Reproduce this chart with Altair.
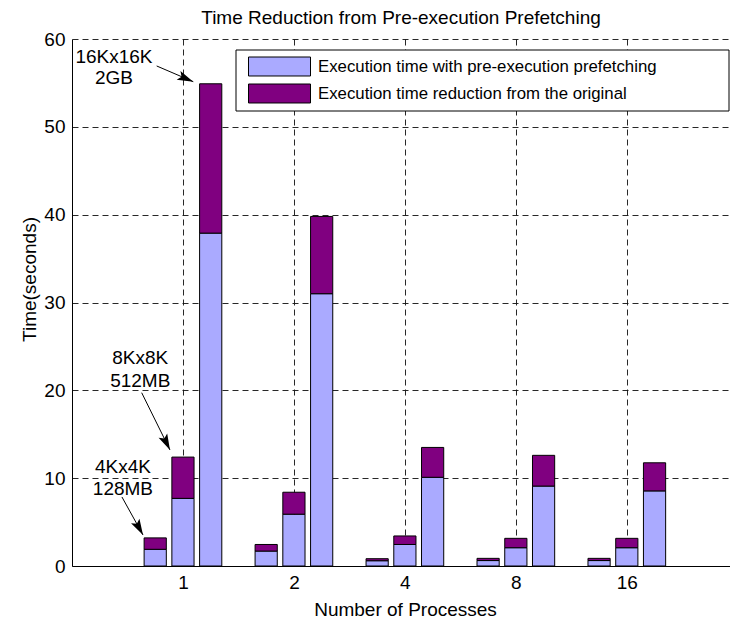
import json
import altair as alt
import pandas as pd

# ---------------- data ----------------
groups = ["1", "2", "4", "8", "16"]                      # number of processes
sizes = ["4Kx4K", "8Kx8K", "16Kx16K"]                   # matrix sizes (bars per group)
series = ["Execution time with pre-execution prefetching",
          "Execution time reduction from the original"]

# execution time with pre-execution prefetching (seconds), per size across groups
prefetch_4k = [1.9, 1.7, 0.6, 0.62, 0.62]
prefetch_8k = [7.7, 5.9, 2.45, 2.08, 2.08]
prefetch_16k = [37.9, 31.0, 10.1, 9.1, 8.55]
# original execution time (top of the stacked bar)
original_4k = [3.2, 2.45, 0.83, 0.87, 0.87]
original_8k = [12.4, 8.4, 3.42, 3.15, 3.15]
original_16k = [54.9, 39.8, 13.5, 12.6, 11.75]

# annotation labels and arrows (data coordinates)
ann_label = ["16Kx16K", "2GB", "8Kx8K", "512MB", "4Kx4K", "128MB"]
ann_x = [0.378, 0.378, 0.615, 0.615, 0.459, 0.459]
ann_y = [58.0, 55.6, 23.65, 21.1, 11.3, 8.77]
arrow_x_start = [0.763, 0.628, 0.450]
arrow_y_start = [56.93, 19.73, 7.86]
arrow_x_end = [1.093, 0.883, 0.640]
arrow_y_end = [55.14, 13.21, 3.53]
arrow_angle = [23.2, 63.7, 61.0]

# ---------------- tables ----------------
prefetch = [prefetch_4k, prefetch_8k, prefetch_16k]
original = [original_4k, original_8k, original_16k]
bar_offset = [-0.25, 0.0, 0.25]
half_w = 0.1

rows = []
for gi, g in enumerate(groups):
    for si, s in enumerate(sizes):
        pos = gi + 1 + bar_offset[si]
        p = prefetch[si][gi]
        o = original[si][gi]
        rows.append(dict(group=g, size=s, series=series[0], x0=pos - half_w, x1=pos + half_w, y0=0.0, y1=p))
        rows.append(dict(group=g, size=s, series=series[1], x0=pos - half_w, x1=pos + half_w, y0=p, y1=o))
bars_df = pd.DataFrame(rows)

ann_df = pd.DataFrame(dict(label=ann_label, x=ann_x, y=ann_y))
arrow_df = pd.DataFrame(dict(xs=arrow_x_start, ys=arrow_y_start, xe=arrow_x_end, ye=arrow_y_end, ang=arrow_angle))

FONT = "Liberation Sans"
x_scale = alt.Scale(domain=[0, 5.93], nice=False, zero=False)
y_scale = alt.Scale(domain=[0, 60], nice=False)
X_TITLE = "Number of Processes"
Y_TITLE = "Time(seconds)"

label_expr = json.dumps(groups) + "[datum.value - 1]"
x_axis = alt.Axis(values=[1, 2, 3, 4, 5], labelExpr=label_expr,
                  labelPadding=22, labelBaseline="alphabetic", labelFlush=False,
                  titleX=333, titleY=49, titleBaseline="alphabetic", titleAlign="center")
y_axis = alt.Axis(values=list(range(0, 61, 10)), labelPadding=7, labelFlush=False,
                  titleX=-37, titleY=240, titleBaseline="alphabetic", titleAlign="center")

frame = alt.Chart(pd.DataFrame({"k": [0]})).mark_rect(
    fill="white", stroke="black", strokeWidth=1
).encode(x=alt.value(164), x2=alt.value(657), y=alt.value(11), y2=alt.value(72))

bars = alt.Chart(bars_df).mark_rect(stroke="black", strokeWidth=1).encode(
    x=alt.X("x0:Q", scale=x_scale, title=X_TITLE, axis=x_axis),
    x2="x1:Q",
    y=alt.Y("y0:Q", scale=y_scale, title=Y_TITLE, axis=y_axis),
    y2="y1:Q",
    color=alt.Color("series:N",
                    scale=alt.Scale(domain=series, range=["#AAAAFF", "#800080"]),
                    legend=alt.Legend(title=None, orient="none", legendX=176, legendY=17,
                                      direction="vertical",
                                      symbolType="M-1,-0.306L1,-0.306L1,0.306L-1,0.306Z",
                                      symbolSize=3844, symbolStrokeColor="black",
                                      symbolStrokeWidth=1, symbolOpacity=1,
                                      labelFontSize=16.8, labelFont=FONT, labelColor="black",
                                      labelOffset=7, clipHeight=21, rowPadding=6,
                                      padding=0, labelLimit=600)),
)

texts = alt.Chart(ann_df).mark_text(
    font=FONT, fontSize=19, color="black", align="center", baseline="middle"
).encode(
    x=alt.X("x:Q", scale=x_scale, title=X_TITLE, axis=x_axis),
    y=alt.Y("y:Q", scale=y_scale, title=Y_TITLE, axis=y_axis),
    text="label:N",
)

lines = alt.Chart(arrow_df).mark_rule(color="black", strokeWidth=1).encode(
    x=alt.X("xs:Q", scale=x_scale, title=X_TITLE, axis=x_axis),
    y=alt.Y("ys:Q", scale=y_scale, title=Y_TITLE, axis=y_axis),
    x2="xe:Q",
    y2="ye:Q",
)

heads = alt.Chart(arrow_df).mark_point(
    shape="M0,0L-2,-0.6L-1.6,0L-2,0.6Z", size=256, filled=True, color="black",
    opacity=1, strokeWidth=0
).encode(
    x=alt.X("xe:Q", scale=x_scale, title=X_TITLE, axis=x_axis),
    y=alt.Y("ye:Q", scale=y_scale, title=Y_TITLE, axis=y_axis),
    angle=alt.Angle("ang:Q", scale=None),
)

chart = alt.layer(frame, bars, texts, lines, heads).properties(
    width=658, height=527,
    autosize=alt.AutoSizeParams(type="none"),
    padding={"left": 64, "top": 31, "right": 0, "bottom": 56},
    title=alt.TitleParams(text="Time Reduction from Pre-execution Prefetching",
                          font=FONT, fontSize=19, fontWeight="normal", color="black",
                          anchor="middle", frame="group", baseline="top", offset=2),
).configure_view(stroke=None).configure_axis(
    grid=True, gridDash=[6, 4], gridColor="#111111", gridWidth=1, gridOpacity=0.9,
    domainColor="black", domainWidth=1, ticks=False, tickSize=0,
    labelFont=FONT, labelFontSize=19, labelColor="black",
    titleFont=FONT, titleFontSize=19, titleFontWeight="normal", titleColor="black",
)

chart.save("out.html", embed_options={"renderer": "svg", "actions": False})
